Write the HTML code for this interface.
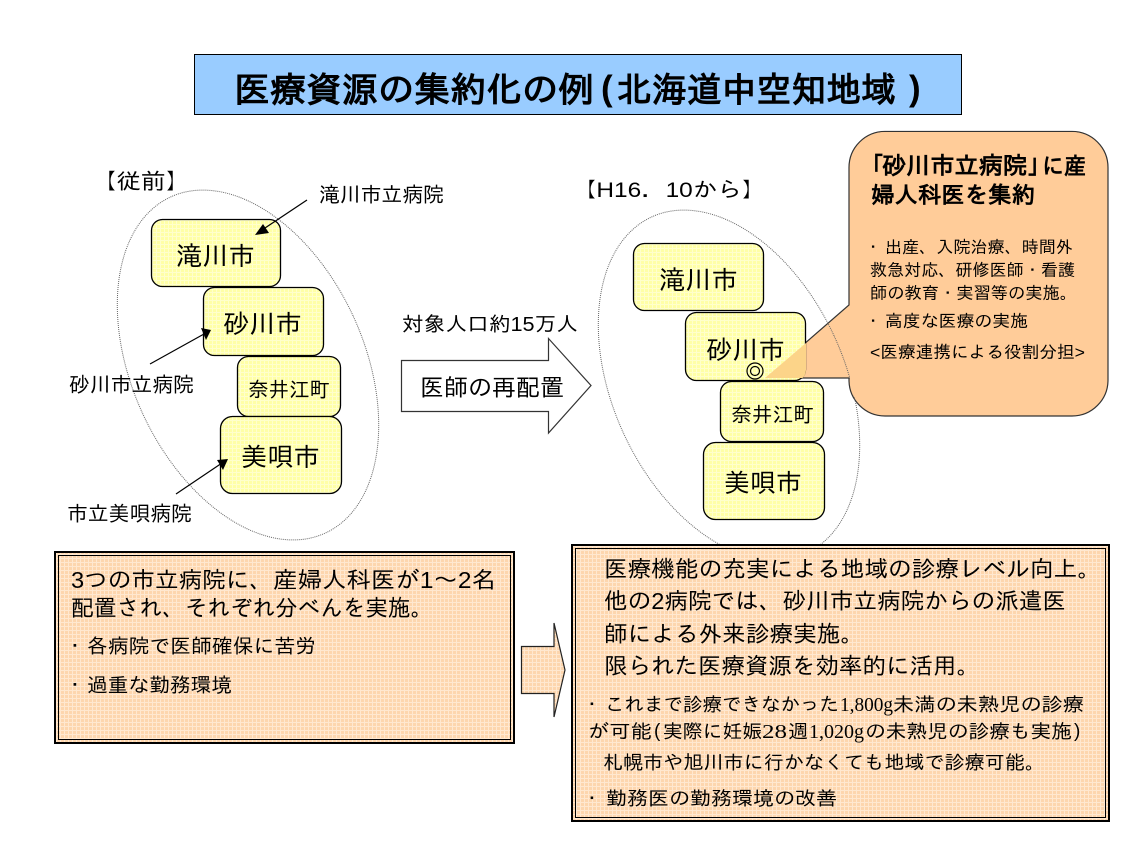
<!DOCTYPE html>
<html lang="ja"><head><meta charset="utf-8"><title>医療資源の集約化の例</title>
<style>
html,body{margin:0;padding:0;background:#fff}
svg{display:block}
text{font-family:"Liberation Sans","IPAGothic","Noto Sans CJK JP",sans-serif;fill:#000}
text.s{font-family:"Liberation Serif",serif}
</style></head><body>
<svg width="1138" height="854" viewBox="0 0 1138 854" xmlns="http://www.w3.org/2000/svg">
<defs>
<pattern id="p" width="4" height="4" patternUnits="userSpaceOnUse"><rect width="4" height="4" fill="#fdd6ae"/><rect x="0" y="0" width="1" height="4" fill="#ffe8d0"/><rect x="0" y="2" width="4" height="1" fill="#ffe8d0"/></pattern>
<pattern id="y" width="4" height="4" patternUnits="userSpaceOnUse"><rect width="4" height="4" fill="#ffffa6"/><rect x="0" y="0" width="1" height="4" fill="#ffffcc"/><rect x="0" y="0" width="4" height="1" fill="#ffffcc"/></pattern>
<clipPath id="c"><rect x="685" y="312" width="121" height="69" rx="11"/></clipPath>
</defs>
<rect x="194.500" y="54.500" width="767" height="60" fill="#99ccff" stroke="#000"/>
<text x="234" y="102" font-size="35" font-weight="bold" textLength="360" lengthAdjust="spacingAndGlyphs">医療資源の集約化の例</text>
<text x="601" y="100" font-size="35" font-weight="bold">(</text>
<text x="617" y="102" font-size="35" font-weight="bold" textLength="279" lengthAdjust="spacingAndGlyphs">北海道中空知地域</text>
<text x="909" y="100" font-size="35" font-weight="bold">)</text>

<ellipse cx="248" cy="365" rx="116" ry="185" transform="rotate(-24.700 248 365)" fill="none" stroke="#666" stroke-width="1" stroke-dasharray="1 1"/>
<g fill="url(#y)" stroke="#000" stroke-width="1.300">
<rect x="151.500" y="219.500" width="129" height="67" rx="11"/>
<rect x="203.500" y="287.500" width="120" height="68" rx="11"/>
<rect x="237.500" y="356.500" width="103" height="60" rx="11"/>
<rect x="220.500" y="416.500" width="121" height="77" rx="12"/>
</g>
<text x="176" y="265" font-size="26" textLength="79" lengthAdjust="spacingAndGlyphs">滝川市</text>
<text x="223" y="333" font-size="26" textLength="79" lengthAdjust="spacingAndGlyphs">砂川市</text>
<text x="248" y="397" font-size="21" textLength="82" lengthAdjust="spacingAndGlyphs">奈井江町</text>
<text x="241" y="466" font-size="26" textLength="79" lengthAdjust="spacingAndGlyphs">美唄市</text>
<text x="92" y="189" font-size="22" textLength="98" lengthAdjust="spacingAndGlyphs">【従前】</text>
<text x="319" y="202" font-size="21" textLength="125" lengthAdjust="spacingAndGlyphs">滝川市立病院</text>
<text x="69" y="392" font-size="21" textLength="125" lengthAdjust="spacingAndGlyphs">砂川市立病院</text>
<text x="67" y="521" font-size="21" textLength="125" lengthAdjust="spacingAndGlyphs">市立美唄病院</text>
<g stroke="#000" stroke-width="1.200">
<line x1="307" y1="200" x2="262" y2="230"/><line x1="150" y1="364" x2="204" y2="334"/><line x1="176" y1="494" x2="222" y2="463"/>
</g>
<polygon points="255,235 263,224 269,233"/>
<polygon points="211,330 201,328 206,340"/>
<polygon points="228,459 217,460 223,470"/>

<text x="402" y="331" font-size="20" textLength="176" lengthAdjust="spacingAndGlyphs">対象人口約15万人</text>
<polygon points="401.500,360.500 548.500,360.500 548.500,338.500 591,385.500 548.500,433 548.500,411.500 401.500,411.500" fill="#fff" stroke="#333" stroke-width="1.200"/>
<text x="420" y="396" font-size="24" textLength="144" lengthAdjust="spacingAndGlyphs">医師の再配置</text>
<text x="572" y="197" font-size="21" textLength="194" lengthAdjust="spacingAndGlyphs">【H16．10から】</text>

<path d="M885,131.500H1072a36,36 0 0 1 36,36V380a36,36 0 0 1-36,36H885a36,36 0 0 1-36-36V378L765,378 849,305V167.500a36,36 0 0 1 36-36Z" fill="#ffcc99" stroke="#333" stroke-width="1.200"/>
<ellipse cx="729" cy="385" rx="116" ry="185" transform="rotate(-24.700 729 385)" fill="none" stroke="#666" stroke-width="1" stroke-dasharray="1 1"/>
<rect x="850" y="132" width="257" height="283" rx="35" fill="#ffcc99"/>
<g fill="url(#y)" stroke="#000" stroke-width="1.300">
<rect x="633.500" y="243.500" width="130" height="67" rx="11"/>
<rect x="685.500" y="312.500" width="120" height="68" rx="11"/>
<rect x="720.500" y="381.500" width="103" height="60" rx="11"/>
<rect x="703.500" y="442.500" width="121" height="77" rx="12"/>
</g>
<polygon points="765,378 806,343 806,378" fill="#fcd489" clip-path="url(#c)"/>
<text x="659" y="289" font-size="26" textLength="79" lengthAdjust="spacingAndGlyphs">滝川市</text>
<text x="706" y="359" font-size="26" textLength="79" lengthAdjust="spacingAndGlyphs">砂川市</text>
<text x="731" y="422" font-size="21" textLength="83" lengthAdjust="spacingAndGlyphs">奈井江町</text>
<text x="724" y="492" font-size="26" textLength="78" lengthAdjust="spacingAndGlyphs">美唄市</text>
<circle cx="755" cy="371" r="8" fill="none" stroke="#000" stroke-width="1.200"/><circle cx="755" cy="371" r="4.500" fill="none" stroke="#000" stroke-width="1.200"/>

<text x="860" y="174" font-size="24" font-weight="bold">「</text>
<text x="882" y="174" font-size="24" font-weight="bold" textLength="145" lengthAdjust="spacingAndGlyphs">砂川市立病院</text>
<text x="1027" y="174" font-size="24" font-weight="bold">」</text>
<text x="1042" y="174" font-size="23" font-weight="bold" textLength="44" lengthAdjust="spacingAndGlyphs">に産</text>
<text x="871" y="203" font-size="23" font-weight="bold" textLength="164" lengthAdjust="spacingAndGlyphs">婦人科医を集約</text>
<text x="864.500" y="253" font-size="17">・</text>
<text x="885" y="253" font-size="17" textLength="188" lengthAdjust="spacingAndGlyphs">出産、入院治療、時間外</text>
<text x="870" y="276" font-size="17" textLength="205" lengthAdjust="spacingAndGlyphs">救急対応、研修医師・看護</text>
<text x="870" y="299" font-size="17" textLength="207" lengthAdjust="spacingAndGlyphs">師の教育・実習等の実施。</text>
<text x="864.500" y="327" font-size="17">・</text>
<text x="885" y="327" font-size="17" textLength="143" lengthAdjust="spacingAndGlyphs">高度な医療の実施</text>
<text x="870" y="358" font-size="17" textLength="215" lengthAdjust="spacingAndGlyphs">&lt;医療連携による役割分担&gt;</text>

<rect x="55" y="552" width="459" height="191" fill="url(#p)" stroke="#000" stroke-width="2"/>
<rect x="58.500" y="555.500" width="452" height="184" fill="none" stroke="#000" stroke-width="1"/>
<text x="71" y="588" font-size="23" textLength="202" lengthAdjust="spacingAndGlyphs">3つの市立病院に、</text>
<text x="273" y="588" font-size="23" textLength="223" lengthAdjust="spacingAndGlyphs">産婦人科医が1～2名</text>
<text x="71" y="616" font-size="23" textLength="114" lengthAdjust="spacingAndGlyphs">配置され、</text>
<text x="185" y="616" font-size="23" textLength="248" lengthAdjust="spacingAndGlyphs">それぞれ分べんを実施。</text>
<text x="65" y="653" font-size="20">・</text>
<text x="87" y="653" font-size="20" textLength="229" lengthAdjust="spacingAndGlyphs">各病院で医師確保に苦労</text>
<text x="65" y="692" font-size="20">・</text>
<text x="87" y="692" font-size="20" textLength="145" lengthAdjust="spacingAndGlyphs">過重な勤務環境</text>

<polygon points="521.500,646.500 554,646.500 554,623 565,670 554,717 554,693.500 521.500,693.500" fill="url(#p)" stroke="#222" stroke-width="1.200"/>

<rect x="572" y="545" width="537" height="276" fill="url(#p)" stroke="#000" stroke-width="2"/>
<rect x="575.500" y="548.500" width="530" height="269" fill="none" stroke="#000" stroke-width="1"/>
<text x="604" y="577" font-size="23" textLength="497" lengthAdjust="spacingAndGlyphs">医療機能の充実による地域の診療レベル向上。</text>
<text x="604" y="609" font-size="23" textLength="462" lengthAdjust="spacingAndGlyphs">他の2病院では、砂川市立病院からの派遣医</text>
<text x="604" y="642" font-size="23" textLength="260" lengthAdjust="spacingAndGlyphs">師による外来診療実施。</text>
<text x="604" y="674" font-size="23" textLength="376" lengthAdjust="spacingAndGlyphs">限られた医療資源を効率的に活用。</text>
<text x="582.500" y="711" font-size="19">・</text>
<text x="605" y="711" font-size="19" textLength="234" lengthAdjust="spacingAndGlyphs">これまで診療できなかった</text>
<text class="s" x="840" y="711" font-size="20" textLength="53" lengthAdjust="spacingAndGlyphs">1,800g</text>
<text x="893" y="711" font-size="19" textLength="191" lengthAdjust="spacingAndGlyphs">未満の未熟児の診療</text>
<text x="588" y="738" font-size="19" textLength="64" lengthAdjust="spacingAndGlyphs">が可能</text>
<text x="654" y="737" font-size="19">(</text>
<text x="663" y="738" font-size="19" textLength="99" lengthAdjust="spacingAndGlyphs">実際に妊娠</text>
<text class="s" x="762" y="738" font-size="20" textLength="25" lengthAdjust="spacingAndGlyphs">28</text>
<text x="788" y="738" font-size="19" textLength="20" lengthAdjust="spacingAndGlyphs">週</text>
<text class="s" x="809" y="738" font-size="20" textLength="55" lengthAdjust="spacingAndGlyphs">1,020g</text>
<text x="865" y="738" font-size="19" textLength="207" lengthAdjust="spacingAndGlyphs">の未熟児の診療も実施</text>
<text x="1074" y="737" font-size="19">)</text>
<text x="603" y="769" font-size="19" textLength="442" lengthAdjust="spacingAndGlyphs">札幌市や旭川市に行かなくても地域で診療可能。</text>
<text x="582.500" y="805" font-size="19">・</text>
<text x="606" y="805" font-size="19" textLength="231" lengthAdjust="spacingAndGlyphs">勤務医の勤務環境の改善</text>
</svg>
</body></html>
